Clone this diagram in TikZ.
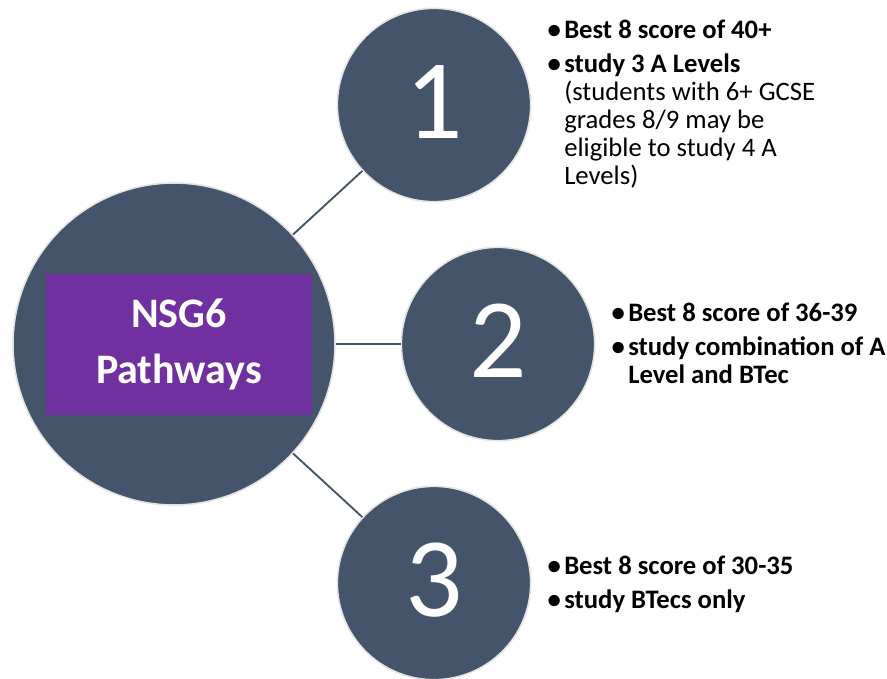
\documentclass[tikz,border=0pt]{standalone}
\usepackage{fontspec}
\setmainfont{Carlito}
\usepackage{xcolor}
\usepackage{tikz}
\usetikzlibrary{positioning}
\definecolor{slate}{HTML}{44546A}
\definecolor{rimgray}{HTML}{E3E3E3}
\definecolor{nsgpurple}{HTML}{7030A0}
\tikzstyle{hubcircle} = [circle, draw=rimgray, line width=1.2pt,
fill=slate, minimum size=241.5pt, inner sep=0pt]
\tikzstyle{stepcircle} = [circle, draw=rimgray, line width=1.2pt,
fill=slate, minimum size=145pt, inner sep=0pt,
text=white, text depth=5pt, font=\fontsize{85}{85}\selectfont]
\tikzstyle{titlebox} = [rectangle, fill=nsgpurple,
minimum width=199.5pt, minimum height=105.75pt,
text=white, align=center, font=\fontsize{31.5}{42}\selectfont\bfseries]
\tikzstyle{textbox} = [anchor=base west, align=left, inner sep=0pt,
font=\fontsize{20}{21}\selectfont]
\tikzstyle{link} = [draw=slate, line width=1.4pt]
\newcommand{\dotmark}{\llap{\textbf{•}\hspace{2.5pt}}}

\begin{document}
\begin{tikzpicture}[x=0.75pt, y=-0.75pt]
	\useasboundingbox (0, 0) rectangle (887, 678);
	\coordinate (a) at (174, 344);
	\coordinate (b) at (434, 105);
	\coordinate (c) at (498, 344);
	\coordinate (d) at (434, 583);
	\node[hubcircle](hub) at (a) {};
	\node[titlebox](title) at (179, 344.5) {NSG6\\Pathways};
	\node[stepcircle](one) at (b) {1};
	\node[stepcircle](two) at (c) {2};
	\node[stepcircle](three) at (d) {3};
	%% Hub to steps
	\draw[link] (hub) -- (one);
	\draw[link] (hub) -- (two);
	\draw[link] (hub) -- (three);
	%% Step texts (anchored on their last line)
	\node[textbox](textOne) at (564, 184) {
		\dotmark\textbf{Best 8 score of 40+}\\[4.5pt]
		\dotmark\textbf{study 3 A Levels}\\
		(students with 6+ GCSE\\
		grades 8/9 may be\\
		eligible to study 4 A\\
		Levels)};
	\node[textbox, font=\fontsize{20}{21}\selectfont\bfseries](textTwo) at (628, 383) {
		\dotmark Best 8 score of 36-39\\[4.5pt]
		\dotmark study combination of A\\
		Level and BTec};
	\node[textbox, font=\fontsize{20}{21}\selectfont\bfseries](textThree) at (564, 608) {
		\dotmark Best 8 score of 30-35\\[4.5pt]
		\dotmark study BTecs only};
\end{tikzpicture}
\end{document}
